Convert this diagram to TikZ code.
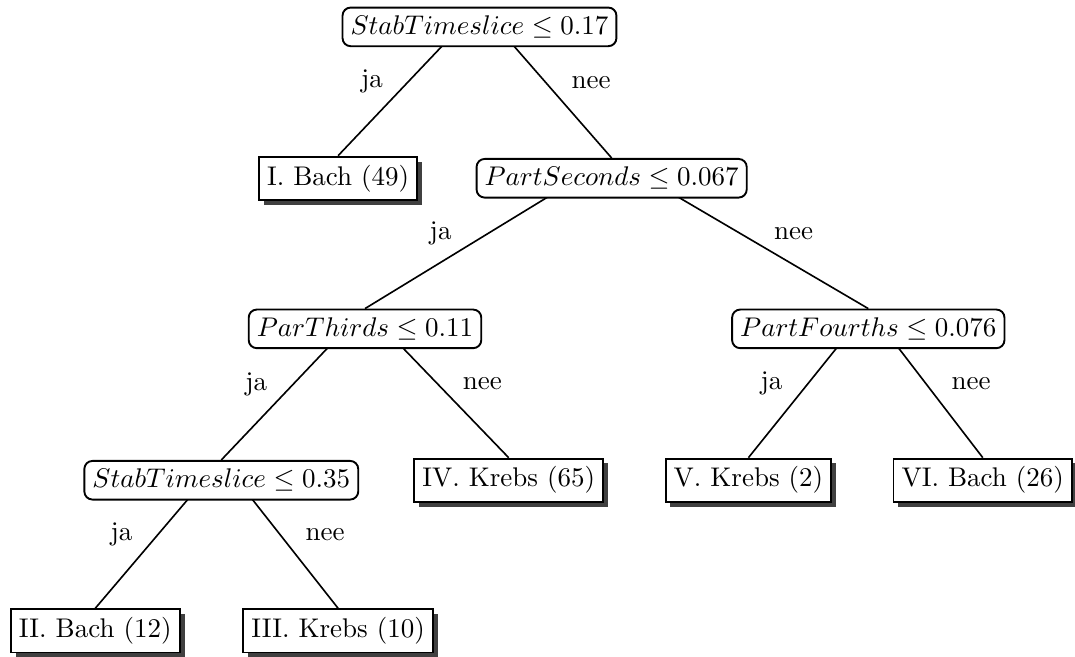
\documentclass[tikz,border=0pt]{standalone}
\usetikzlibrary{shadows,backgrounds}
\begin{document}
\begin{tikzpicture}[
  test/.style={draw, rounded corners=3pt, fill=white, line width=0.7pt, inner sep=3pt},
  leaf/.style={draw, fill=white, line width=0.7pt, inner sep=3pt,
    drop shadow={shadow xshift=1.8pt, shadow yshift=-1.8pt, fill=black!75, opacity=1}},
  tak/.style={line width=0.6pt, shorten <=1pt}]
\useasboundingbox (0,0) rectangle (13.99,8.55);
\node[test] (1) at (6.24,8.20) {$StabTimeslice \leq 0.17$};
\node[leaf] (2) at (4.40,6.23) {I. Bach (49)};
\node[test] (3) at (7.96,6.23) {$PartSeconds \leq 0.067$};
\node[test] (4) at (4.75,4.27) {$ParThirds \leq 0.11$};
\node[test] (5) at (11.30,4.27) {$PartFourths \leq 0.076$};
\node[test] (6) at (2.88,2.30) {$StabTimeslice \leq 0.35$};
\node[leaf] (7) at (6.62,2.30) {IV. Krebs (65)};
\node[leaf] (8) at (9.74,2.30) {V. Krebs (2)};
\node[leaf] (9) at (12.79,2.30) {VI. Bach (26)};
\node[leaf] (10) at (1.24,0.34) {II. Bach (12)};
\node[leaf] (11) at (4.40,0.34) {III. Krebs (10)};

\begin{scope}[on background layer]
\path[draw,tak] (1.north) -- node[midway,left=6pt] {ja} (2.north);
\path[draw,tak] (1.north) -- node[midway,right=6pt] {nee} (3.north);
\path[draw,tak] (3.north) -- node[midway,left=10pt] {ja} (4.north);
\path[draw,tak] (3.north) -- node[midway,right=9pt] {nee} (5.north);
\path[draw,tak] (4.north) -- node[midway,left=6pt] {ja} (6.north);
\path[draw,tak] (4.north) -- node[midway,right=6pt] {nee} (7.north);
\path[draw,tak] (5.north) -- node[midway,left=6pt] {ja} (8.north);
\path[draw,tak] (5.north) -- node[midway,right=6pt] {nee} (9.north);
\path[draw,tak] (6.north) -- node[midway,left=6pt] {ja} (10.north);
\path[draw,tak] (6.north) -- node[midway,right=6pt] {nee} (11.north);
\end{scope}
\end{tikzpicture}
\end{document}
